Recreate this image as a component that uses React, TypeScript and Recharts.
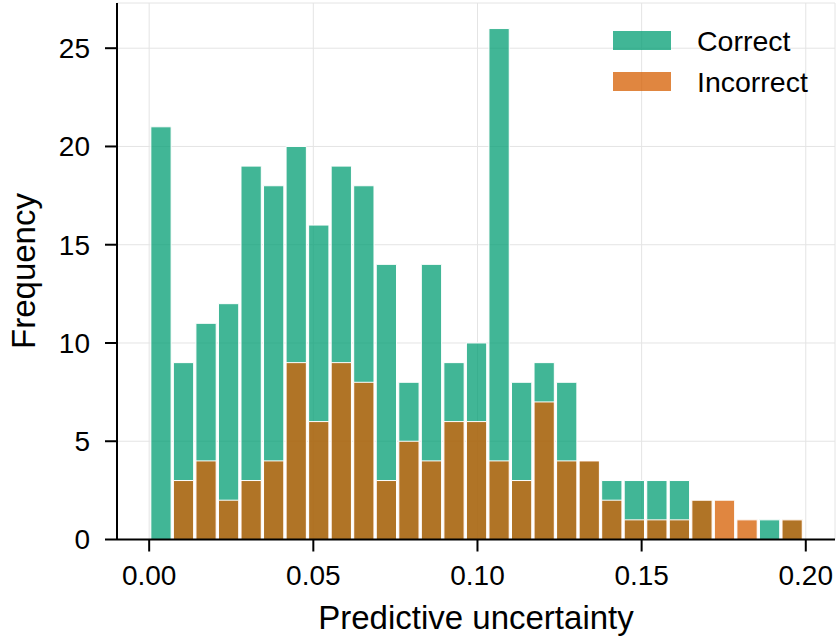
import React from 'react';
import { ComposedChart, Bar, XAxis, YAxis, CartesianGrid, Legend } from 'recharts';

// Histogram bins (29 equal-width bins over the data range)
const binStart = 0.0002;
const binWidth = 0.006866;
const correctCounts = [21, 9, 11, 12, 19, 18, 20, 16, 19, 18, 14, 8, 14, 9, 10, 26, 8, 9, 8, 4, 3, 3, 3, 3, 2, 0, 0, 1, 1];
const incorrectCounts = [0, 3, 4, 2, 3, 4, 9, 6, 9, 8, 3, 5, 4, 6, 6, 4, 3, 7, 4, 4, 2, 1, 1, 1, 2, 2, 1, 0, 1];
const xTicks = [0, 0.05, 0.1, 0.15, 0.2];
const yTicks = [0, 5, 10, 15, 20, 25];
const seriesNames = ['Correct', 'Incorrect'];
const xLabel = 'Predictive uncertainty';
const yLabel = 'Frequency';

const data = correctCounts.map((c, i) => ({
  x: binStart + (i + 0.5) * binWidth,
  correct: c,
  incorrect: incorrectCounts[i],
}));

const W = 836;
const H = 641;
const X_DOMAIN: [number, number] = [-0.0098, 0.2089];
const Y_DOMAIN: [number, number] = [0, 27.3];
const PLOT_LEFT = 117;
const PLOT_RIGHT = 835;
const BAR_PX = ((PLOT_RIGHT - PLOT_LEFT) / (X_DOMAIN[1] - X_DOMAIN[0])) * binWidth;

const TEAL = '#029e73';
const ORANGE = '#d55e00';
const TEAL_A = 0.75;
const ORANGE_A = 0.75;
const FONT = '"Liberation Sans", Arial, sans-serif';

const LegendContent = () => {
  const rows = [
    { name: seriesNames[0], color: TEAL, a: TEAL_A },
    { name: seriesNames[1], color: ORANGE, a: ORANGE_A },
  ];
  return (
    <div style={{ position: 'relative', width: 220, height: 80, fontFamily: FONT }}>
      {rows.map((r, i) => (
        <div key={r.name}>
          <div
            style={{
              position: 'absolute',
              left: 0,
              top: 5 + i * 41,
              width: 58,
              height: 19,
              background: r.color,
              opacity: r.a,
            }}
          />
          <div
            style={{
              position: 'absolute',
              left: 84,
              top: 14.5 + i * 41 - 20,
              height: 40,
              lineHeight: '40px',
              fontSize: 28.5,
              color: '#000',
              whiteSpace: 'nowrap',
            }}
          >
            {r.name}
          </div>
        </div>
      ))}
    </div>
  );
};

export default function App() {
  return (
    <div style={{ position: 'absolute', left: 0, top: 0, width: W, height: H, background: '#fff' }}>
      <ComposedChart
        width={W}
        height={H}
        data={data}
        margin={{ top: 3, right: 1, left: 0, bottom: 41.5 }}
        style={{ fontFamily: FONT }}
      >
        <CartesianGrid xAxisId="bottom" yAxisId="left" stroke="#e4e4e4" strokeWidth={1} />
        <XAxis
          xAxisId="bottom"
          dataKey="x"
          type="number"
          domain={X_DOMAIN}
          allowDataOverflow
          ticks={xTicks}
          interval={0}
          tickFormatter={(v: number) => v.toFixed(2)}
          height={60}
          tickSize={12}
          tickMargin={14}
          axisLine={{ stroke: '#000', strokeWidth: 2 }}
          tickLine={{ stroke: '#000', strokeWidth: 2 }}
          tick={{ fill: '#000', fontSize: 28 }}
          label={{
            value: xLabel,
            content: () => (
              <text x={476} y={629} textAnchor="middle" fontSize={33} fill="#000" fontFamily={FONT}>
                {xLabel}
              </text>
            ),
          }}
        />
        <XAxis
          xAxisId="top"
          orientation="top"
          dataKey="x"
          type="number"
          domain={X_DOMAIN}
          allowDataOverflow
          height={0}
          tick={false}
          tickLine={false}
          axisLine={{ stroke: '#000', strokeWidth: 2 }}
        />
        <YAxis
          yAxisId="left"
          type="number"
          domain={Y_DOMAIN}
          allowDataOverflow
          ticks={yTicks}
          interval={0}
          width={117}
          tickSize={12}
          tickMargin={15}
          axisLine={{ stroke: '#000', strokeWidth: 2 }}
          tickLine={{ stroke: '#000', strokeWidth: 2 }}
          tick={{ fill: '#000', fontSize: 28 }}
          label={{
            value: yLabel,
            content: () => (
              <text
                x={0}
                y={0}
                transform="translate(35,271) rotate(-90)"
                textAnchor="middle"
                fontSize={33}
                fill="#000"
                fontFamily={FONT}
              >
                {yLabel}
              </text>
            ),
          }}
        />
        <YAxis
          yAxisId="right"
          orientation="right"
          type="number"
          domain={Y_DOMAIN}
          allowDataOverflow
          width={0}
          tick={false}
          tickLine={false}
          axisLine={{ stroke: '#000', strokeWidth: 2 }}
        />
        <Bar
          xAxisId="bottom"
          yAxisId="left"
          dataKey="correct"
          name={seriesNames[0]}
          fill={TEAL}
          fillOpacity={TEAL_A}
          stroke="#fff"
          strokeWidth={1}
          barSize={BAR_PX}
          isAnimationActive={false}
        />
        <Bar
          xAxisId="top"
          yAxisId="left"
          dataKey="incorrect"
          name={seriesNames[1]}
          fill={ORANGE}
          fillOpacity={ORANGE_A}
          stroke="#fff"
          strokeWidth={1}
          barSize={BAR_PX}
          isAnimationActive={false}
        />
        <Legend
          layout="vertical"
          align="center"
          verticalAlign="middle"
          content={<LegendContent />}
          wrapperStyle={{ left: 613, top: 26, width: 220 }}
        />
      </ComposedChart>
    </div>
  );
}
